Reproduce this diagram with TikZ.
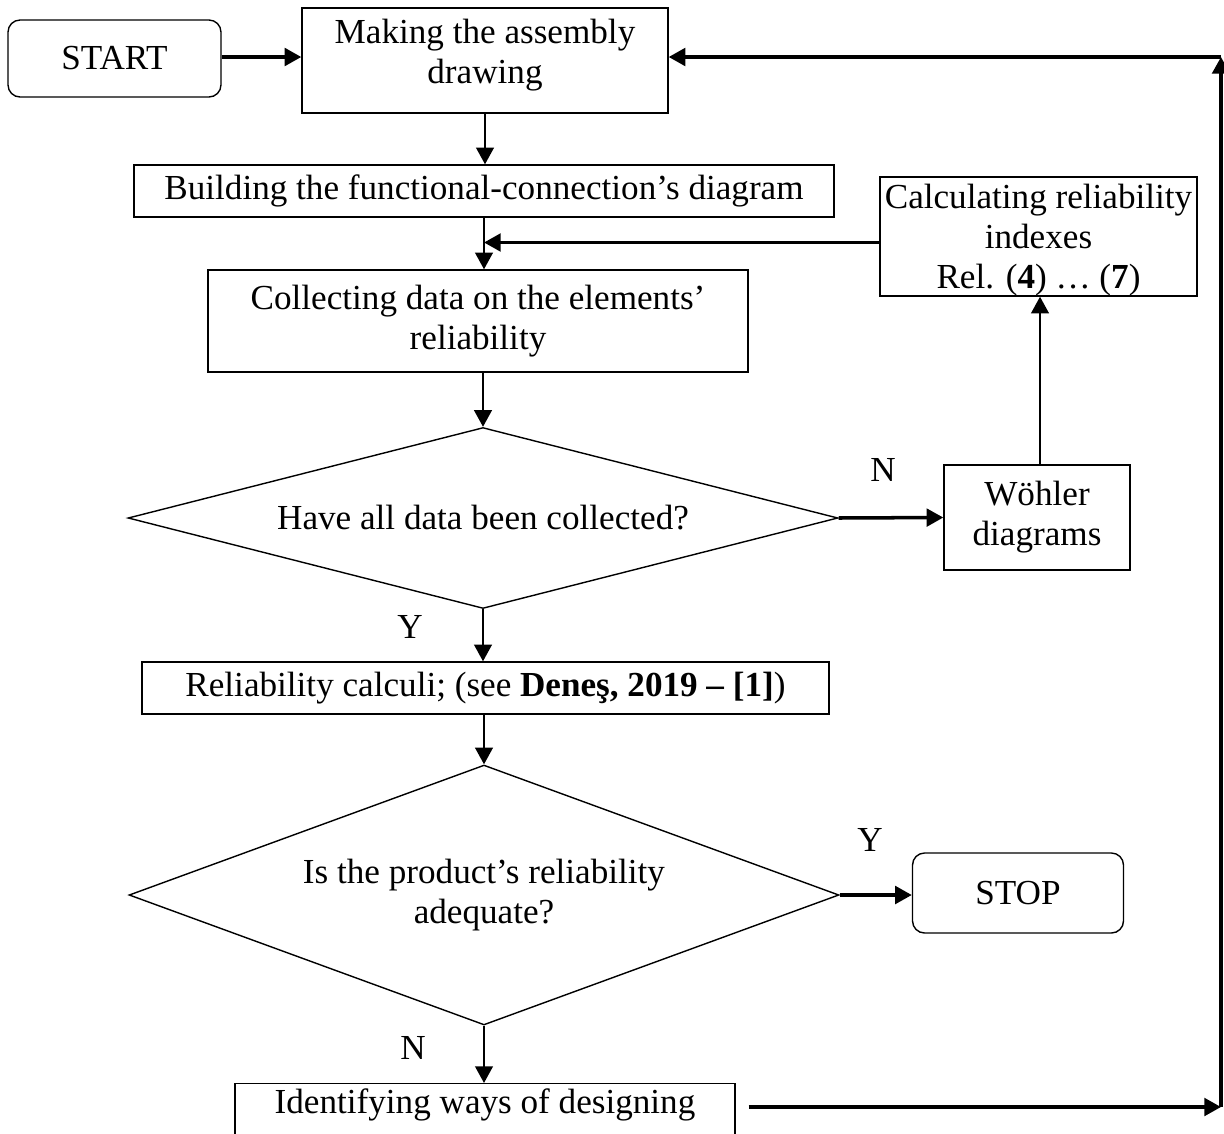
\documentclass[tikz,border=0pt]{standalone}
\usepackage{fontspec}
\setmainfont{Liberation Serif}
\usetikzlibrary{arrows.meta,shapes.geometric}
\tikzset{
  txt/.style={font=\fontsize{20}{22.8}\selectfont, align=center, inner sep=0pt},
  box/.style={txt, draw, line width=0.8pt},
  term/.style={box, rounded corners=0.24cm},
  dec/.style={txt, draw, line width=0.8pt, shape=diamond},
  tip/.style={-{Triangle[length=9.5pt,width=10pt]}},
  vline/.style={line width=1.4pt, tip},
  hline/.style={line width=2pt, tip},
}
\begin{document}
\begin{tikzpicture}[x=0.02cm,y=-0.02cm]
\useasboundingbox (0,0) rectangle (1224,1133);

\node[term, minimum width=4.26cm, minimum height=1.54cm] (start) at (114.5,58.5) {START};
\node[box, minimum width=7.32cm, minimum height=2.1cm, text depth=0.35cm] (make) at (485,60.5) {Making the assembly\\drawing};
\node[box, minimum width=14cm, minimum height=1.04cm] (build) at (484,191) {Building the functional-connection’s diagram};
\node[box, minimum width=6.34cm, minimum height=2.38cm, text depth=0cm] (calc) at (1038.5,236.5) {Calculating reliability\\indexes\\Rel. (\textbf{4}) … (\textbf{7})};
\node[box, minimum width=10.8cm, minimum height=2.04cm] (coll) at (478,321) {Collecting data on the elements’\\reliability};
\node[dec, minimum width=14.2cm, minimum height=3.62cm, aspect=3.92] (d1) at (483,518) {Have all data been collected?};
\node[box, minimum width=3.72cm, minimum height=2.1cm] (wohl) at (1037,517.5) {Wöhler\\diagrams};
\node[box, minimum width=13.74cm, minimum height=1.04cm] (rel) at (485.5,688) {Reliability calculi; (see \textbf{Deneş, 2019 – [1]})};
\node[dec, minimum width=14.2cm, minimum height=5.2cm, aspect=2.72] (d2) at (484,895) {Is the product’s reliability\\adequate?};
\node[term, minimum width=4.22cm, minimum height=1.6cm] (stop) at (1018,893) {STOP};
\node[box, anchor=north, minimum width=10cm, text height=0.6cm, text depth=1.5cm] (ident) at (485,1083) {Identifying ways of designing};

\node[txt] (lN1) at (883,470) {N};
\node[txt] (lY1) at (410,627) {Y};
\node[txt] (lY2) at (870,840) {Y};
\node[txt] (lN2) at (413,1048) {N};

\coordinate (br) at (1221,1107);
\coordinate (tr) at (1221,57);

\draw[hline] (start.east |- 0,57) -- (make.west |- 0,57);
\draw[vline] (make.south) -- (make.south |- build.north);
\draw[vline] (build.south) -- (build.south |- coll.north);
\draw[hline] ([yshift=-0.12cm]calc.west) -- ([yshift=-0.12cm]calc.west -| build.south);
\draw[vline] (d1.north |- coll.south) -- (d1.north);
\draw[hline] (d1.east) -- (wohl.west);
\draw[vline] ([xshift=0.06cm]wohl.north) -- ([xshift=0.06cm]wohl.north |- calc.south);
\draw[vline] (d1.south) -- (d1.south |- rel.north);
\draw[vline] (d2.north |- rel.south) -- (d2.north);
\draw[hline] (d2.east) -- (d2.east -| stop.west);
\draw[vline] (d2.south) -- (d2.south |- ident.north);
\draw[hline] ([xshift=0.26cm]ident.east |- br) -- (br);
\draw[hline] (br) -- (tr);
\draw[hline] (tr) -- (tr -| make.east);
\end{tikzpicture}
\end{document}
